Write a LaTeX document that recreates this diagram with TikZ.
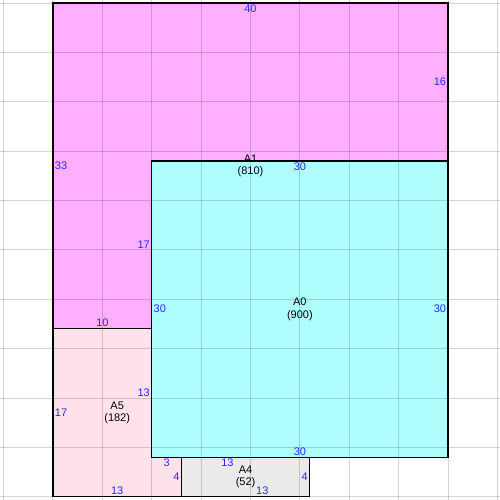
\documentclass[tikz,border=0pt]{standalone}
\usepackage{fontspec}
\setmainfont{Liberation Sans}
\definecolor{magfill}{RGB}{255,175,255}
\definecolor{cyanfill}{RGB}{175,255,255}
\definecolor{pinkfill}{RGB}{255,225,236}
\definecolor{grayfill}{RGB}{234,234,234}
\definecolor{dimblue}{RGB}{40,40,255}
\definecolor{gridgray}{RGB}{212,212,212}
\begin{document}
\begin{tikzpicture}[x=7.40625pt,y=-7.40625pt,
  font=\fontsize{8.25}{9.4}\selectfont,
  dim/.style={text=dimblue, inner sep=1.3pt},
  region/.style={draw=black, line width=0.9pt},
  gridline/.style={draw=gridgray, line width=0.75pt},
  arealabel/.style={align=center, inner sep=0pt}]
\useasboundingbox (-5.367,-0.304) rectangle (45.266,50.329);
% fills
\fill[magfill] (0,0) -- (40,0) -- (40,16) -- (10,16) -- (10,33) -- (0,33) -- cycle;
\fill[cyanfill] (10,16) rectangle (40,46);
\fill[pinkfill] (0,33) -- (10,33) -- (10,46) -- (13,46) -- (13,50) -- (0,50) -- cycle;
\fill[grayfill] (13,46) rectangle (26,50);
% grid
\begin{scope}[blend mode=multiply]
\foreach \x in {-5,0,...,45} \draw[gridline] (\x,-0.5) -- (\x,50.5);
\foreach \y in {0,5,...,50} \draw[gridline] (-5.5,\y) -- (45.5,\y);
\end{scope}
% borders
\draw[region] (0,0) -- (40,0) -- (40,16) -- (10,16) -- (10,33) -- (0,33) -- cycle;
\draw[region] (10,16) rectangle (40,46);
\draw[region] (0,33) -- (10,33) -- (10,46) -- (13,46) -- (13,50) -- (0,50) -- cycle;
\draw[region] (13,46) rectangle (26,50);
% dimension labels
\node[dim, anchor=north] (d40) at (20,0) {40};
\node[dim, anchor=east] (d16) at (40,8) {16};
\node[dim, anchor=west] (d33) at (0,16.5) {33};
\node[dim, anchor=north] (d30t) at (25,16) {30};
\node[dim, anchor=east] (d17a) at (10,24.5) {17};
\node[dim, anchor=south] (d10) at (5,33) {10};
\node[dim, anchor=west] (d30l) at (10,31) {30};
\node[dim, anchor=east] (d30r) at (40,31) {30};
\node[dim, anchor=south] (d30b) at (25,46) {30};
\node[dim, anchor=east] (d13a) at (10,39.5) {13};
\node[dim, anchor=west] (d17b) at (0,41.5) {17};
\node[dim, anchor=south] (d13b) at (6.5,50) {13};
\node[dim, anchor=north] (d3) at (11.5,46) {3};
\node[dim, anchor=east] (d4a) at (13,48) {4};
\node[dim, anchor=north] (d13c) at (17.67,46) {13};
\node[dim, anchor=south] (d13d) at (21.2,50) {13};
\node[dim, anchor=east] (d4b) at (26,48) {4};
% area labels
\node[arealabel] (A1) at (20,16.5) {A1\\(810)};
\node[arealabel] (A0) at (25,31) {A0\\(900)};
\node[arealabel] (A5) at (6.5,41.5) {A5\\(182)};
\node[arealabel] (A4) at (19.5,48) {A4\\(52)};
\end{tikzpicture}
\end{document}
